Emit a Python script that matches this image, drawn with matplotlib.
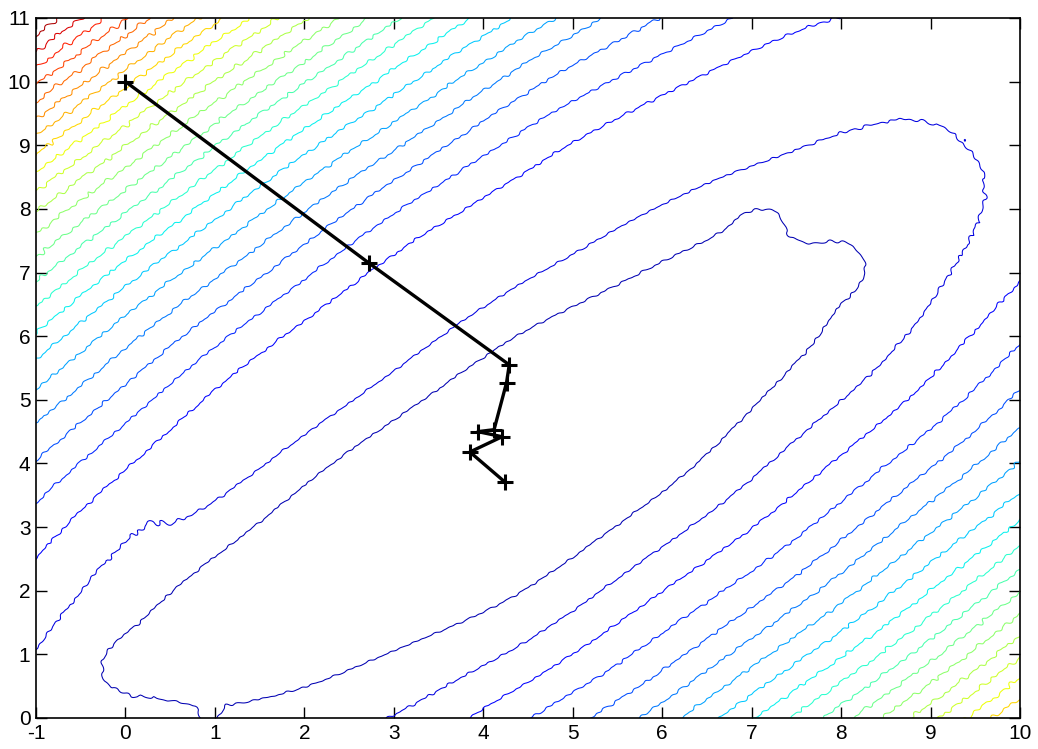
import numpy as np
import matplotlib
matplotlib.use("Agg")
import matplotlib.pyplot as plt

# descent path
path_x = [0.0, 2.72, 4.29, 4.26, 4.12, 3.94, 4.21, 3.85, 4.24]
path_y = [10.0, 7.15, 5.55, 5.27, 4.53, 4.50, 4.42, 4.18, 3.71]

# outer bowl fitted to the edge crossings: centre, axis angle, curvature across / along
centre = (4.5, 4.6)
angle_deg = 46.0
curv_across, curv_along = 1.917, 0.164

# innermost valley floor: centre, half-lengths of the lowest contour, bend of its lower-left half
inner_centre = (4.2, 3.8)
inner_half_long, inner_half_short = 5.4, 1.45
inner_bend = 0.02
blend_mid, blend_width = 9.0, 0.8

# rise near the upper-right end (height, centre and widths in valley coords)
rise_h, rise_u, rise_su, rise_sv = 5.0, 7.0, 2.0, 1.25

# local dents / lumps seen in the inner contours
bump_x = [7.0, 8.0, 7.6, 0.0, 0.95]
bump_y = [8.0, 7.05, 7.65, 0.95, 0.0]
bump_h = [-1.2, -1.2, 1.2, -0.8, -1.2]
bump_w = [0.3, 0.3, 0.25, 0.3, 0.13]

# contour levels (24 evenly spaced) and colour range
level_start, level_step, n_levels = 5.85, 5.37, 24
color_min, color_max = 0.0, 135.0

x_ticks = list(range(-1, 11))
y_ticks = list(range(0, 12))

plt.rcParams["font.family"] = ["Liberation Sans", "DejaVu Sans"]
plt.rcParams["axes.unicode_minus"] = False

xs = np.linspace(-1, 10, 661)
ys = np.linspace(0, 11, 661)
X, Y = np.meshgrid(xs, ys)
ct, st = np.cos(np.radians(angle_deg)), np.sin(np.radians(angle_deg))


def valley_coords(cx, cy):
    dx, dy = X - cx, Y - cy
    return dx * ct + dy * st, -dx * st + dy * ct


u, v = valley_coords(*centre)
Qo = curv_along * u**2 + curv_across * v**2
Qo_r = Qo + rise_h * np.exp(-(u - rise_u) ** 2 / (2 * rise_su**2)) * np.exp(-v**2 / (2 * rise_sv**2))

ui, vi = valley_coords(*inner_centre)
vi = vi - inner_bend * np.minimum(ui, 0) ** 2
Qi = level_start * ((ui / inner_half_long) ** 2 + (vi / inner_half_short) ** 2)

w = 1.0 / (1.0 + np.exp((Qo - blend_mid) / blend_width))
Q = w * Qi + (1 - w) * Qo_r

for bx, by, bh, bw in zip(bump_x, bump_y, bump_h, bump_w):
    Q = Q + bh * np.exp(-((X - bx) ** 2 + (Y - by) ** 2) / (2 * bw**2))

# ripples on the surface
low = (0.25 * np.sin(1.7 * X + 0.5) * np.sin(1.5 * Y + 2.0)
       + 0.2 * np.sin(2.9 * X - 2.3 * Y + 1.3))
high = (np.sin(37 * X + 23 * Y) + 0.8 * np.sin(43 * X - 17 * Y + 0.7)
        + 0.6 * np.sin(53 * X + 41 * Y + 2.1) + 0.7 * np.sin(11 * X + 29 * Y + 1.4)
        + 0.5 * np.sin(19 * X - 31 * Y + 0.3))
Z = Q + low + (0.02 + 0.0035 * np.abs(Q)) * high

levels = level_start + level_step * np.arange(n_levels)

fig = plt.figure(figsize=(10.38, 7.49), dpi=100)
ax = fig.add_axes([0.0347, 0.0414, 0.948, 0.9346])
ax.contour(X, Y, Z, levels=levels, cmap="jet", vmin=color_min, vmax=color_max,
           linewidths=0.75)
ax.plot(path_x, path_y, color="black", linewidth=2.4, marker="+",
        markersize=11, markeredgewidth=2.2)

ax.set_xlim(-1, 10)
ax.set_ylim(0, 11)
ax.set_xticks(x_ticks)
ax.set_yticks(y_ticks)
ax.tick_params(direction="in", length=8, width=1, top=True, right=True,
               labelsize=15, pad=4)
for s in ax.spines.values():
    s.set_linewidth(1.2)

fig.savefig("out.png", dpi=100, facecolor="white")
